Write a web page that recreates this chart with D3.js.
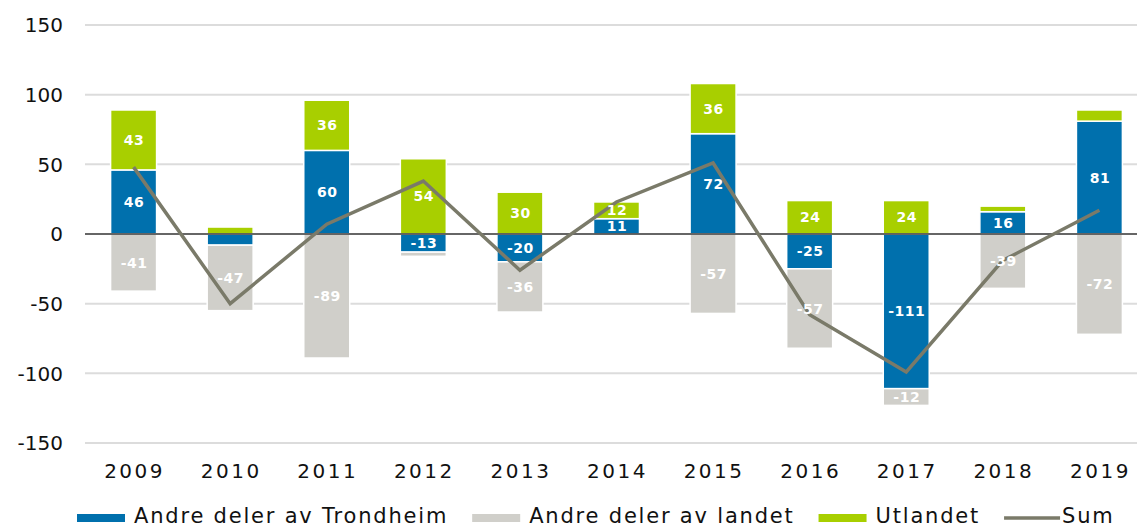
<!DOCTYPE html>
<html>
<head>
<meta charset="utf-8">
<script src="https://cdn.jsdelivr.net/npm/d3@7"></script>
<style>
  body { margin: 0; background: #fff; }
  svg { display: block; font-family: "DejaVu Sans", sans-serif; }
</style>
</head>
<body>
<div id="chart"></div>
<script>
// data
var years = ["2009", "2010", "2011", "2012", "2013", "2014", "2015", "2016", "2017", "2018", "2019"];
var trondheim = [46, -8, 60, -13, -20, 11, 72, -25, -111, 16, 81];
var landet = [-41, -47, -89, -3, -36, 0, -57, -57, -12, -39, -72];
var utlandet = [43, 5, 36, 54, 30, 12, 36, 24, 24, 4, 8];
var sum = [48, -50, 7, 38, -26, 23, 51, -58, -99, -19, 17];
var yTicks = [150, 100, 50, 0, -50, -100, -150];
var seriesNames = ["Andre deler av Trondheim", "Andre deler av landet", "Utlandet"];
var sumName = "Sum";

var colors = { trondheim: "#0070ad", landet: "#d0cfca", utlandet: "#a8cf00", sum: "#7a7a69" };

var width = 1137, height = 529;

var svg = d3.select("#chart")
    .append("svg")
    .attr("width", width)
    .attr("height", height);

var x = d3.scaleBand()
    .domain(years)
    .range([85, 1148])
    .paddingInner(0.524)
    .paddingOuter(0.265);

var y = d3.scaleLinear()
    .domain([-150, 150])
    .range([443, 25]);

// gridlines
svg.append("g")
    .selectAll("line")
    .data(yTicks.filter(function(d) { return d !== 0; }))
    .enter().append("line")
    .attr("x1", 85)
    .attr("x2", width)
    .attr("y1", function(d) { return y(d); })
    .attr("y2", function(d) { return y(d); })
    .attr("stroke", "#dcdcdc")
    .attr("stroke-width", 2);

// y tick labels
svg.append("g")
    .selectAll("text")
    .data(yTicks)
    .enter().append("text")
    .attr("x", 63)
    .attr("y", function(d) { return y(d); })
    .attr("dy", "0.36em")
    .attr("text-anchor", "end")
    .attr("font-size", 20)
    .attr("fill", "#111")
    .text(function(d) { return d; });

// x tick labels
svg.append("g")
    .selectAll("text")
    .data(years)
    .enter().append("text")
    .attr("x", function(d) { return x(d) + x.bandwidth() / 2 + 1; })
    .attr("y", 478)
    .attr("text-anchor", "middle")
    .attr("font-size", 20)
    .attr("letter-spacing", 2.5)
    .attr("fill", "#111")
    .text(function(d) { return d; });

// stacked bars
var rows = years.map(function(yr, i) {
    return { year: yr, trondheim: trondheim[i], landet: landet[i], utlandet: utlandet[i] };
});
var keys = ["trondheim", "landet", "utlandet"];
var stacked = d3.stack().keys(keys).offset(d3.stackOffsetDiverging)(rows);

var layers = svg.append("g")
    .selectAll("g")
    .data(stacked)
    .enter().append("g")
    .attr("fill", function(d) { return colors[d.key]; });

layers.selectAll("rect")
    .data(function(d) { return d.filter(function(p) { return p[1] !== p[0]; }); })
    .enter().append("rect")
    .attr("x", function(d) { return x(d.data.year); })
    .attr("y", function(d) { return y(Math.max(d[0], d[1])); })
    .attr("width", x.bandwidth())
    .attr("height", function(d) { return Math.abs(y(d[0]) - y(d[1])); })
    .attr("stroke", "#fff")
    .attr("stroke-width", 1.5);

// zero line
svg.append("line")
    .attr("x1", 85)
    .attr("x2", width)
    .attr("y1", y(0))
    .attr("y2", y(0))
    .attr("stroke", "#333")
    .attr("stroke-width", 1.5);

// sum line
var line = d3.line()
    .x(function(d, i) { return x(years[i]) + x.bandwidth() / 2; })
    .y(function(d) { return y(d); });

svg.append("path")
    .datum(sum)
    .attr("d", line)
    .attr("fill", "none")
    .attr("stroke", colors.sum)
    .attr("stroke-width", 3.5);

// value labels inside segments
var labelData = [];
stacked.forEach(function(layer) {
    layer.forEach(function(p) {
        var v = p.data[layer.key];
        if (Math.abs(v) >= 10) labelData.push({ year: p.data.year, v: v, mid: (p[0] + p[1]) / 2 });
    });
});

svg.append("g")
    .selectAll("text")
    .data(labelData)
    .enter().append("text")
    .attr("x", function(d) { return x(d.year) + x.bandwidth() / 2 + 0.5; })
    .attr("y", function(d) { return y(d.mid); })
    .attr("dy", "0.36em")
    .attr("text-anchor", "middle")
    .attr("font-size", 14)
    .attr("font-weight", "bold")
    .attr("letter-spacing", 0.5)
    .attr("fill", "#fff")
    .text(function(d) { return d.v; });

// legend
var legend = svg.append("g");
var lx = 77;
var legendItems = [
    { name: seriesNames[0], color: colors.trondheim, type: "rect" },
    { name: seriesNames[1], color: colors.landet, type: "rect" },
    { name: seriesNames[2], color: colors.utlandet, type: "rect" },
    { name: sumName, color: colors.sum, type: "line" }
];
legendItems.forEach(function(item) {
    if (item.type === "rect") {
        legend.append("rect")
            .attr("x", lx).attr("y", 514)
            .attr("width", 48).attr("height", 8)
            .attr("fill", item.color);
        lx += 57;
    } else {
        legend.append("line")
            .attr("x1", lx).attr("x2", lx + 56)
            .attr("y1", 518).attr("y2", 518)
            .attr("stroke", item.color)
            .attr("stroke-width", 3.5);
        lx += 58;
    }
    var t = legend.append("text")
        .attr("x", lx).attr("y", 523)
        .attr("font-size", 21)
        .attr("letter-spacing", 1.8)
        .attr("fill", "#111")
        .text(item.name);
    lx += t.node().getComputedTextLength() + 24;
});
</script>
</body>
</html>
